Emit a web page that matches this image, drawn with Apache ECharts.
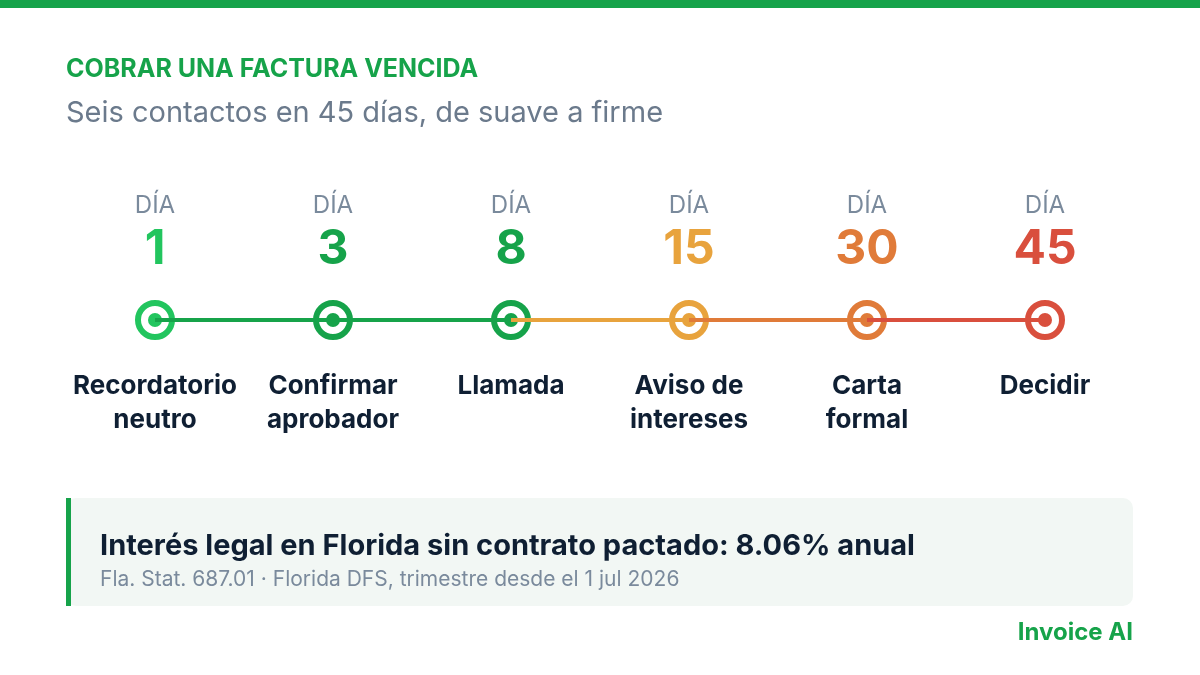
<!DOCTYPE html>
<html><head><meta charset="utf-8">
<script src="https://cdn.jsdelivr.net/npm/echarts@6/dist/echarts.min.js"></script>
<style>html,body{margin:0;background:#fff}#c{width:1200px;height:675px}</style>
</head><body><div id="c"></div>
<script>
const days = ['1','3','8','15','30','45'];
const steps = ['Recordatorio\nneutro','Confirmar\naprobador','Llamada','Aviso de\nintereses','Carta\nformal','Decidir'];
const colors = ['#22c55e','#16a34a','#16a34a','#e8a33d','#e07b39','#d94f3d'];
const F = 'Inter, "Noto Sans", sans-serif';
const chart = echarts.init(document.getElementById('c'));
const segs = [];
for (let i = 0; i < days.length - 1; i++) {
  const d = days.map(() => null); d[i] = 0; d[i+1] = 0;
  segs.push({type:'line', data:d, z:5, symbol:'none', silent:true, connectNulls:false,
    lineStyle:{color:colors[i+1], width:4}});
}
chart.setOption({
  animation:false,
  grid:{left:66,right:66,top:300,height:40},
  xAxis:{type:'category',data:days,show:false,boundaryGap:true},
  yAxis:{type:'value',min:-1,max:1,show:false},
  graphic:[
    {type:'rect',shape:{x:0,y:0,width:1200,height:8},style:{fill:'#16a34a'}},
    {type:'text',left:66,top:57,style:{text:'COBRAR UNA FACTURA VENCIDA',font:'bold 25px '+F,fill:'#16a34a'}},
    {type:'text',left:66,top:99,style:{text:'Seis contactos en 45 días, de suave a firme',font:'29px '+F,fill:'#6b7a8c'}},
    {type:'rect',shape:{x:66,y:498,width:1067,height:108,r:10},style:{fill:'#f2f7f4'}},
    {type:'rect',shape:{x:66,y:498,width:5,height:108},style:{fill:'#16a34a'}},
    {type:'text',left:100,top:532,style:{text:'Interés legal en Florida sin contrato pactado: 8.06% anual',font:'bold 29px '+F,fill:'#0f1f33'}},
    {type:'text',left:100,top:569,style:{text:'Fla. Stat. 687.01 · Florida DFS, trimestre desde el 1 jul 2026',font:'21px '+F,fill:'#7a8a9c'}},
    {type:'text',right:67,top:621,style:{text:'Invoice AI',font:'bold 24px '+F,fill:'#16a34a'}}
  ],
  series:[
    {type:'custom', z:3, data:days.map(()=>0),
     renderItem:(p,api)=>{
       const i=p.dataIndex, pt=api.coord([i,0]), c=colors[i];
       return {type:'group',children:[
         {type:'circle',shape:{cx:pt[0],cy:pt[1],r:17},style:{fill:'#fff',stroke:c,lineWidth:6}},
         {type:'circle',shape:{cx:pt[0],cy:pt[1],r:7},style:{fill:c}},
         {type:'text',style:{x:pt[0],y:pt[1]-114,text:'DÍA',font:'24px '+F,fill:'#7a8a9c',align:'center',verticalAlign:'middle'}},
         {type:'text',style:{x:pt[0],y:pt[1]-70,text:days[i],font:'bold 48px '+F,fill:c,align:'center',verticalAlign:'middle'}},
         {type:'text',style:{x:pt[0],y:pt[1]+49,text:steps[i],font:'bold 26px '+F,fill:'#0f1f33',align:'center',verticalAlign:'top',lineHeight:34}}
       ]};
     }},
    ...segs
  ]
});
</script></body></html>
